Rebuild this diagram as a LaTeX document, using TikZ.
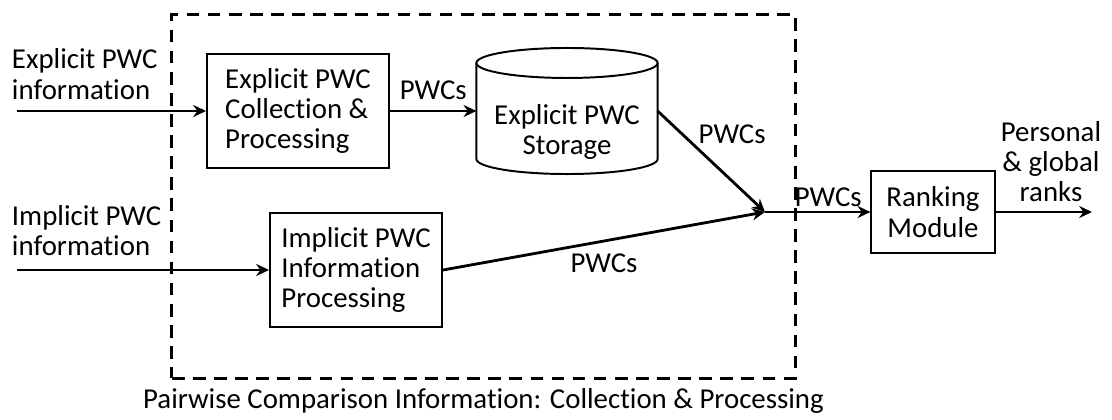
\documentclass[tikz,border=0pt]{standalone}
\usepackage{fontspec}
\setmainfont{Carlito}[Ligatures=NoCommon]
\usetikzlibrary{arrows.meta, positioning, calc}
\tikzset{
  % thick lines and small filled tips throughout
  every picture/.append style = {line width=1.4pt, >={Stealth[length=3.2mm, width=3mm]}},
  txt/.style   = {font=\fontsize{20.5}{21.5}\selectfont, align=left, inner sep=0pt},
  blk/.style   = {draw, line width=1.4pt, txt, inner sep=4pt},
  flow/.style  = {->, line width=2pt},
  frame/.style = {draw, line width=2.2pt, dash pattern=on 9pt off 6pt},
}

\begin{document}
\begin{tikzpicture}[x=0.025cm, y=-0.025cm]
\useasboundingbox (0,0) rectangle (1112,420);

% ---- dashed frame around collection & processing -------------------------
\node[frame, minimum width=15.575cm, minimum height=9.075cm] (pcbox) at (483.5,196.5) {};
\node[txt, below=0.2cm of pcbox.south] (pccap) {Pairwise Comparison Information: Collection \& Processing};

% ---- blocks --------------------------------------------------------------
\node[blk, minimum width=4.55cm, minimum height=2.85cm] (collect) at (298,111)
  {Explicit PWC\\Collection \&\\Processing};
\node[blk, minimum width=4.3cm, minimum height=2.85cm] (implicit) at (356,270)
  {Implicit PWC\\Information\\Processing};
\node[blk, align=center, minimum width=3.08cm, minimum height=2.05cm] (rank) at (933,212)
  {Ranking\\Module};

% storage drum: outline drawn round an empty box
\node[inner sep=0pt, outer sep=0pt, minimum width=4.53cm, minimum height=3.15cm] (store) at (567,111) {};
\node[txt, align=center] (storetxt) at (567,132) {Explicit PWC\\Storage};
\draw ($(store.north)+(0,15)$) ellipse [x radius=2.265cm, y radius=0.375cm];
\draw ($(store.north west)+(0,15)$) -- ($(store.south west)+(0,-15)$)
  arc[start angle=180, end angle=360, x radius=2.265cm, y radius=0.375cm]
  -- ($(store.north east)+(0,15)$);

% ---- inputs and outputs --------------------------------------------------
\coordinate (expin) at (17,111);
\coordinate (impin) at (17,270);
\coordinate (join) at (765,212);
\coordinate (rankout) at (1092,212);
\node[txt, anchor=north west] (explbl) at (11,48) {Explicit PWC\\information};
\node[txt, anchor=north west] (implbl) at (11,204) {Implicit PWC\\information};
\node[txt, align=center, anchor=south] (outlbl) at (1051,203) {Personal\\\& global\\ranks};

% ---- connectors ----------------------------------------------------------
\draw[flow] (expin) -- (collect);
\draw[flow] (impin) -- (implicit);
\draw[flow] (collect) -- (store) node[txt, midway, above=7pt] {PWCs};
\draw[flow] (store.east) -- (join) node[txt, midway, above right=12pt and -10pt] {PWCs};
\draw[flow] (implicit.east) -- (join) node[txt, midway, below=8pt] {PWCs};
\draw[flow] (join) -- (rank) node[txt, pos=0.6, above=3pt] {PWCs};
\draw[flow] (rank) -- (rankout);
\end{tikzpicture}
\end{document}
